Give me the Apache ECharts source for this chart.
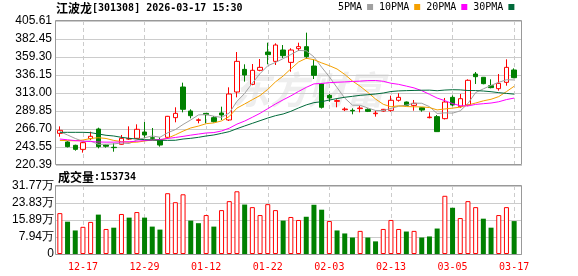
<!DOCTYPE html>
<html><head><meta charset="utf-8">
<script src="https://cdn.jsdelivr.net/npm/echarts@6/dist/echarts.min.js"></script>
<style>html,body{margin:0;padding:0;background:#fff}#c{width:578px;height:276px}</style>
</head><body><div id="c"></div>
<script>
const dates = ['12-12','12-15','12-16','12-17','12-18','12-19','12-22','12-23','12-24','12-25','12-26','12-29','12-30','12-31','01-05','01-06','01-07','01-08','01-09','01-12','01-13','01-14','01-15','01-16','01-19','01-20','01-21','01-22','01-23','01-26','01-27','01-28','01-29','01-30','02-02','02-03','02-04','02-05','02-06','02-09','02-10','02-11','02-12','02-13','02-24','02-25','02-26','02-27','03-02','03-03','03-04','03-05','03-06','03-09','03-10','03-11','03-12','03-13','03-16','03-17'];
const opens  = [261.1,250.0,245.7,240.5,254.3,266.7,246.1,243.2,247.0,253.8,254.7,262.8,255.5,252.6,256.0,281.3,320.7,289.8,277.8,286.8,281.3,287.3,278.3,314.3,343.4,324.1,342.2,365.7,353.7,368.3,352.4,370.0,372.6,347.7,324.6,310.0,302.3,291.5,290.7,292.9,292.0,286.4,289.8,290.7,303.6,301.4,297.1,294.1,281.3,282.6,280.0,307.4,295.4,297.6,337.4,333.2,322.4,318.6,326.7,342.6];
const closes = [265.0,244.0,240.5,249.1,257.3,244.0,244.5,242.7,254.7,254.2,266.3,259.0,254.7,246.1,283.0,286.8,292.0,283.8,278.5,285.2,276.1,284.7,311.7,353.7,336.1,342.2,346.0,362.3,374.7,361.0,368.3,372.6,359.7,335.7,294.6,306.6,303.2,292.4,290.0,293.7,289.4,287.1,292.0,303.6,307.4,297.1,299.7,291.1,282.0,263.3,301.4,297.6,305.7,329.3,334.0,325.0,319.9,325.4,346.0,332.7];
const lows   = [256.8,243.0,238.8,236.3,252.6,241.8,242.7,237.5,246.5,252.6,254.0,254.7,252.6,244.0,254.0,275.3,288.1,280.4,274.0,274.0,275.0,278.3,277.0,307.4,327.6,323.0,341.0,349.9,349.0,358.0,340.4,367.0,357.0,331.0,293.0,301.9,294.6,289.8,285.6,288.1,288.5,282.6,289.0,289.0,301.9,296.0,290.3,289.0,280.4,263.0,279.0,296.0,294.0,296.0,324.6,324.2,319.0,316.0,322.4,332.0];
const highs  = [270.1,251.0,246.5,250.0,263.3,268.4,247.0,248.3,259.0,270.1,272.7,275.7,268.0,256.0,283.5,294.6,326.3,292.0,280.4,287.0,283.4,295.4,320.3,365.7,349.9,350.3,356.7,377.7,376.9,374.7,370.5,377.7,390.6,356.3,325.0,311.7,304.9,294.6,293.3,296.3,293.3,290.3,292.5,309.6,312.6,302.0,304.0,294.5,288.1,284.7,306.6,310.0,311.7,330.6,340.0,333.5,330.6,337.4,356.3,344.7];
const volumes = [191000,151000,110000,127000,150000,184000,117000,123000,187000,170000,196000,170000,128000,114000,284000,242000,279000,156000,144000,182000,128000,205000,247000,293000,231000,219000,182000,233000,205000,156000,173000,159000,174000,230000,207000,154000,110000,96000,77000,108000,77000,59000,117000,159000,117000,105000,108000,77000,82000,119000,272000,216000,168000,247000,219000,165000,123000,182000,219000,153734];
// volume bar colour: R = rise, G = fall
const volumeDirs = 'RGGRRGRGRGRGGGRRRGGRGRRRGRRRRGRRGGGRGGGRGGRRRGRGGGRGRRRGGRRG'.split('');
// early moving-average values (window starts before visible data)
const ma5Early  = [263.3,259.0,254.5,250.8];
const ma10Early = [252.0,251.8,251.5,252.5,254.5,255.5,254.5,252.0,250.5];
const ma20Early = [253.8,252.8,251.8,251.0,250.5,250.0,249.8,249.8,250.0,250.3,251.0,251.8,252.5,253.2,254.5,255.8,257.2,258.8,260.2];
const ma30Early = [262.4,262.4,262.4,262.4,262.0,260.3,258.6,257.7,256.0,254.7,253.8,253.0,252.6,252.1,252.1,252.2,253.8,254.7,256.0,257.7,259.0,261.1,263.3,267.1,270.6,274.0,277.4,280.8,283.8];
const yTickLabels = ['220.39','243.55','266.70','289.85','313.00','336.15','359.30','382.45','405.61'];
const xTickLabels = ['12-17','12-29','01-12','01-22','02-03','02-13','03-05','03-17'];
const volMax = 317720, volStep = 79430;
const lastVolume = 153734;

function movingAvg(n, early) {
  return closes.map((c, i) => {
    if (i < n - 1) return early[i];
    let s = 0; for (let k = i - n + 1; k <= i; k++) s += closes[k];
    return +(s / n).toFixed(2);
  });
}
const candleData = dates.map((d, i) => [opens[i], closes[i], lows[i], highs[i]]);
const UP = '#ff0000', DOWN = '#008000';
const volData = volumes.map((v, i) => ({
  value: v,
  itemStyle: volumeDirs[i] === 'R'
    ? { color: '#ffffff', borderColor: UP, borderWidth: 1 }
    : { color: DOWN, borderColor: DOWN, borderWidth: 0 }
}));
const showTick = (idx, val) => xTickLabels.indexOf(val) >= 0;
const mono = '"DejaVu Sans Mono", "Liberation Mono", monospace';
const cjk = '"Noto Sans CJK SC", sans-serif';
const grid = '#cccccc';

const maDefs = [
  { name: '5PMA', n: 5, early: ma5Early, color: '#a0a0a0' },
  { name: '10PMA', n: 10, early: ma10Early, color: '#f5a000' },
  { name: '20PMA', n: 20, early: ma20Early, color: '#ff00ff' },
  { name: '30PMA', n: 30, early: ma30Early, color: '#006a3a' }
];

const chart = echarts.init(document.getElementById('c'), null, { renderer: 'canvas' });
const catAxis = (gi, labels) => ({
  type: 'category', gridIndex: gi, data: dates, boundaryGap: true,
  axisLine: { show: false }, axisTick: { show: false },
  axisLabel: labels ? { show: true, interval: showTick, color: '#ff0000', fontFamily: mono, fontSize: 10, margin: 8 } : { show: false },
  splitLine: { show: true, interval: showTick, alignWithLabel: true, lineStyle: { color: grid, type: [4, 3], width: 1 } }
});
chart.setOption({
  animation: false,
  backgroundColor: '#ffffff',
  title: [
    { left: 56, top: 2, padding: 0, text: '{a|江波龙}{b|[301308] 2026-03-17 15:30}',
      textStyle: { rich: { a: { fontFamily: cjk, fontSize: 12, color: '#000' }, b: { fontFamily: mono, fontSize: 10, color: '#000' } } } },
    { left: 58, top: 171, padding: 0, text: '{a|成交量}{b|:' + lastVolume + '}',
      textStyle: { rich: { a: { fontFamily: cjk, fontSize: 12, color: '#000' }, b: { fontFamily: mono, fontSize: 10, color: '#000' } } } }
  ],
  legend: {
    left: 338, top: 2, padding: 0, itemWidth: 6, itemHeight: 6, itemGap: 6, icon: 'rect', align: 'right',
    textStyle: { fontFamily: mono, fontSize: 10, color: '#000' },
    data: maDefs.map(m => m.name)
  },
  grid: [
    { left: 56, top: 21, width: 462, height: 144 },
    { left: 56, top: 186, width: 462, height: 68 },
    { left: 56, top: 21, width: 466, height: 144 },
    { left: 56, top: 186, width: 466, height: 68 }
  ],
  xAxis: [
    catAxis(0, false),
    catAxis(1, true),
    { type: 'value', gridIndex: 2, min: 0, max: 1, show: false },
    { type: 'value', gridIndex: 3, min: 0, max: 1, show: false }
  ],
  yAxis: [
    { type: 'value', gridIndex: 0, min: parseFloat(yTickLabels[0]), max: parseFloat(yTickLabels[yTickLabels.length - 1]), show: false },
    { type: 'value', gridIndex: 1, min: 0, max: volMax, show: false },
    { type: 'value', gridIndex: 2, min: 0, max: yTickLabels.length - 1, interval: 1,
      axisLine: { show: false }, axisTick: { show: false },
      axisLabel: { formatter: v => yTickLabels[v], fontFamily: '"Liberation Sans", Arial, sans-serif', fontSize: 12, color: '#000', margin: 4 },
      splitLine: { show: true, lineStyle: { color: grid, width: 1 } } },
    { type: 'value', gridIndex: 3, min: 0, max: volMax, interval: volStep,
      axisLine: { show: false }, axisTick: { show: false },
      axisLabel: { formatter: v => v === 0 ? '0' : (v / 10000).toFixed(2) + '万', fontFamily: '"Liberation Sans", Arial, sans-serif', fontSize: 12, color: '#000', margin: 2 },
      splitLine: { show: true, lineStyle: { color: grid, width: 1 } } }
  ],
  graphic: [
    { type: 'text', left: 232, top: 71, z: 0, silent: true,
      style: { text: '东方财富', font: 'bold italic 38px "Noto Sans CJK SC"', fill: '#eeeeee' } },
    { type: 'rect', z: 10, silent: true, shape: { x: 55.5, y: 20.5, width: 466, height: 144 }, style: { fill: 'none', stroke: '#999', lineWidth: 1 } },
    { type: 'rect', z: 10, silent: true, shape: { x: 55.5, y: 185.5, width: 466, height: 69 }, style: { fill: 'none', stroke: '#999', lineWidth: 1 } }
  ],
  series: [
    { type: 'candlestick', name: 'K', xAxisIndex: 0, yAxisIndex: 0, data: candleData, barWidth: 5,
      itemStyle: { color: '#ffffff', color0: DOWN, borderColor: UP, borderColor0: DOWN, borderWidth: 1 } },
    ...maDefs.map(m => ({
      type: 'line', name: m.name, xAxisIndex: 0, yAxisIndex: 0, data: movingAvg(m.n, m.early),
      showSymbol: false, symbol: 'none', color: m.color, lineStyle: { width: 1, color: m.color }, z: 3
    })),
    { type: 'bar', name: 'vol', xAxisIndex: 1, yAxisIndex: 1, data: volData, barWidth: 5 }
  ]
});
</script></body></html>
